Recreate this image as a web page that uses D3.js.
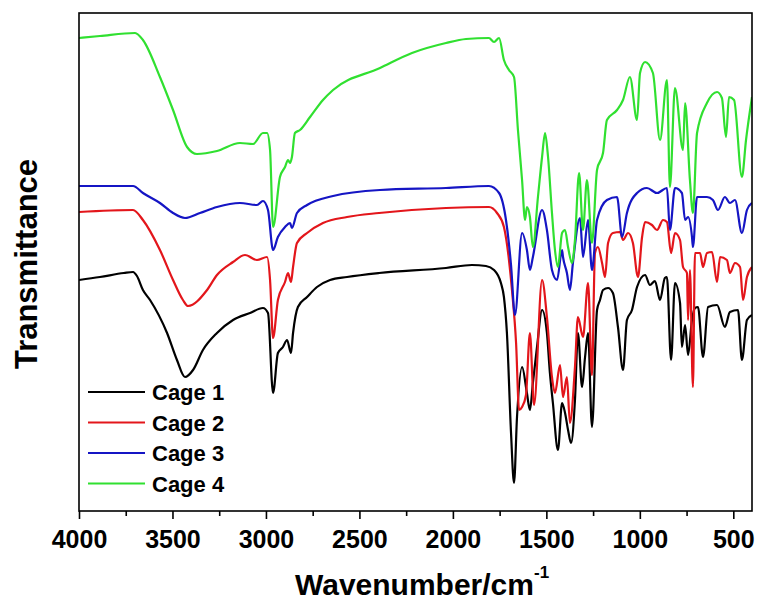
<!DOCTYPE html>
<html><head><meta charset="utf-8">
<script src="https://cdn.jsdelivr.net/npm/d3@7"></script>
<style>
body{margin:0;background:#fff}
svg{display:block}
text{font-family:"Liberation Sans",Arial,sans-serif;font-weight:bold;fill:#000}
</style>
</head><body>
<svg id="chart" width="759" height="601"></svg>
<script>
// ---- data ----
const seriesNames = ["Cage 1", "Cage 2", "Cage 3", "Cage 4"];
const seriesColors = ["#000000", "#e3161b", "#1515c4", "#30e030"];
const majorTicks = [4000, 3500, 3000, 2500, 2000, 1500, 1000, 500];
const minorTicks = [3750, 3250, 2750, 2250, 1750, 1250, 750];
const xLabel = "Wavenumber/cm";
const xLabelSup = "-1";
const yLabel = "Transmittance";

// [wavenumber, transmittance (a.u.)]
const cage1 = [[4000,46.2],[3888,46.8],[3760,47.6],[3711,47.8],[3690,47.0],[3658,44.2],[3620,42.2],[3529,35.6],[3476,30.2],[3433,26.8],[3390,28.2],[3337,32.2],[3262,35.6],[3176,38.2],[3085,39.6],[3016,40.6],[2989,39.6],[2962,23.6],[2936,31.6],[2909,32.8],[2887,34.2],[2866,31.6],[2855,35.6],[2829,40.8],[2780,42.8],[2727,44.8],[2657,46.2],[2566,46.8],[2395,47.6],[2037,48.6],[1898,49.2],[1823,49.0],[1780,48.2],[1743,45.6],[1727,42.8],[1711,35.6],[1689,15.6],[1673,5.6],[1657,18.8],[1630,28.8],[1604,23.6],[1588,20.2],[1572,25.6],[1550,32.8],[1523,40.2],[1497,35.6],[1481,27.6],[1465,21.6],[1438,12.2],[1416,21.6],[1400,19.6],[1384,16.2],[1368,13.6],[1347,22.2],[1331,35.6],[1309,24.8],[1293,30.8],[1277,35.6],[1256,16.8],[1229,40.2],[1213,42.2],[1197,44.2],[1170,44.6],[1144,43.6],[1117,36.8],[1090,28.2],[1069,38.2],[1042,40.2],[1015,44.8],[972,47.2],[946,45.2],[919,46.0],[892,42.2],[866,46.6],[855,46.8],[833,30.2],[812,45.6],[785,41.6],[775,32.8],[758,37.2],[742,31.2],[721,38.2],[705,40.6],[689,40.8],[662,30.8],[635,40.8],[587,41.2],[545,36.8],[518,39.8],[475,40.2],[454,30.2],[427,38.2],[400,39.2]];

const cage2 = [[4000,59.8],[3711,60.2],[3658,58.2],[3567,52.2],[3497,46.2],[3444,42.2],[3417,41.0],[3315,44.2],[3262,47.2],[3176,49.8],[3112,51.2],[3048,50.2],[2994,50.8],[2978,46.2],[2962,34.6],[2936,42.2],[2898,45.8],[2882,47.6],[2866,45.8],[2855,48.8],[2834,53.6],[2780,55.6],[2695,57.6],[2566,58.8],[2395,59.6],[2037,60.6],[1807,60.8],[1764,59.6],[1727,56.8],[1700,50.2],[1684,44.2],[1662,33.6],[1646,20.2],[1630,20.8],[1609,23.2],[1588,35.6],[1566,21.2],[1523,46.2],[1497,38.8],[1470,26.8],[1454,23.6],[1427,29.2],[1411,22.8],[1390,26.8],[1374,17.6],[1347,28.8],[1331,38.8],[1304,34.8],[1277,45.6],[1256,27.2],[1240,51.6],[1224,52.8],[1202,49.6],[1186,46.8],[1170,53.6],[1144,55.6],[1106,55.8],[1090,54.2],[1063,55.6],[1037,53.6],[1010,46.8],[988,54.8],[972,57.8],[935,57.2],[908,56.2],[876,58.2],[855,57.8],[833,51.6],[812,55.6],[785,54.2],[769,48.8],[748,47.6],[742,38.2],[732,48.2],[716,24.8],[705,51.6],[678,51.6],[662,48.8],[641,51.6],[614,51.8],[587,45.8],[571,50.8],[534,50.2],[518,47.6],[491,49.6],[464,48.8],[448,42.2],[427,46.8],[400,48.8]];

const cage3 = [[4000,65.0],[3711,65.0],[3658,63.6],[3567,61.6],[3497,59.6],[3433,58.6],[3353,59.6],[3262,60.8],[3139,61.6],[3048,61.2],[3016,62.0],[2989,60.2],[2962,52.2],[2936,54.8],[2898,56.8],[2871,57.6],[2861,56.6],[2834,59.6],[2780,61.2],[2641,63.0],[2390,64.2],[2037,64.6],[1807,65.0],[1753,63.6],[1716,58.2],[1689,49.2],[1668,39.2],[1630,55.6],[1604,52.2],[1588,48.2],[1572,50.8],[1523,60.2],[1497,56.2],[1470,48.2],[1443,46.2],[1416,52.2],[1411,50.8],[1390,47.6],[1374,44.2],[1358,49.6],[1320,58.6],[1304,50.8],[1277,58.2],[1256,48.2],[1229,58.2],[1176,62.2],[1122,62.8],[1095,54.8],[1069,59.6],[1015,63.6],[962,64.6],[908,63.6],[855,64.6],[839,56.2],[812,64.6],[775,63.6],[758,58.2],[742,58.8],[721,54.8],[716,52.8],[694,62.8],[641,62.8],[609,62.2],[582,60.2],[545,62.8],[518,61.6],[491,62.2],[454,55.6],[427,60.2],[400,61.6]];

const cage4 = [[4000,94.6],[3888,95.0],[3700,95.6],[3658,94.2],[3567,86.8],[3497,80.2],[3422,72.8],[3369,71.4],[3262,72.0],[3139,73.6],[3069,73.4],[3016,75.6],[2994,75.6],[2978,72.2],[2962,56.8],[2925,66.8],[2898,68.8],[2882,70.2],[2871,69.6],[2861,70.8],[2845,75.6],[2818,76.2],[2764,78.8],[2695,82.2],[2641,84.2],[2390,88.6],[2219,91.6],[2037,93.6],[1930,94.4],[1807,94.6],[1780,93.8],[1753,94.6],[1727,90.2],[1700,88.2],[1673,86.8],[1652,76.2],[1630,66.2],[1614,58.2],[1604,60.8],[1588,58.8],[1572,52.8],[1545,62.8],[1523,70.8],[1507,75.6],[1491,70.8],[1470,59.6],[1454,52.2],[1438,48.8],[1416,55.6],[1400,56.2],[1384,52.8],[1363,49.6],[1347,54.2],[1325,67.6],[1304,56.2],[1283,66.2],[1256,53.6],[1229,68.2],[1197,71.6],[1176,78.2],[1122,80.2],[1090,82.2],[1053,86.8],[1015,78.2],[999,87.6],[972,89.8],[930,87.6],[892,74.2],[855,86.2],[839,64.8],[812,84.6],[769,72.2],[758,81.6],[732,66.2],[716,59.6],[694,75.6],[641,81.6],[587,83.8],[561,82.6],[539,74.8],[523,82.8],[496,82.2],[454,66.8],[432,74.2],[400,82.8]];

const allSeries = [cage1, cage2, cage3, cage4];

// ---- layout ----
const W = 759, H = 601;
const margin = {left: 79, top: 13, right: 7, bottom: 90};
const pw = W - margin.left - margin.right;
const ph = H - margin.top - margin.bottom;

const svg = d3.select("#chart");
const x = d3.scaleLinear().domain([4000, 400]).range([margin.left, margin.left + pw]);
const y = d3.scaleLinear().domain([0, 99.6]).range([margin.top + ph, margin.top]);

const line = d3.line().x(d => x(d[0])).y(d => y(d[1])).curve(d3.curveMonotoneX);

svg.append("clipPath").attr("id", "clip").append("rect")
  .attr("x", margin.left).attr("y", margin.top).attr("width", pw).attr("height", ph);

const g = svg.append("g").attr("clip-path", "url(#clip)");
allSeries.forEach((s, i) => {
  g.append("path").datum(s)
    .attr("fill", "none")
    .attr("stroke", seriesColors[i])
    .attr("stroke-width", 2.2)
    .attr("stroke-linejoin", "round")
    .attr("d", line);
});

// frame
svg.append("rect")
  .attr("x", margin.left).attr("y", margin.top).attr("width", pw).attr("height", ph)
  .attr("fill", "none").attr("stroke", "#000").attr("stroke-width", 1.6);

// x axis major
const xAxis = d3.axisBottom(x).tickValues(majorTicks).tickSize(8).tickPadding(11).tickFormat(d3.format("d"));
const ax = svg.append("g").attr("transform", `translate(0,${margin.top + ph})`).call(xAxis);
ax.select(".domain").remove();
ax.selectAll(".tick line").attr("stroke", "#000").attr("stroke-width", 1.6);
ax.selectAll(".tick text").style("font-size", "25px").style("font-family", "'Liberation Sans',Arial,sans-serif").style("font-weight", "bold").attr("fill", "#000");

// x axis minor
const xMinor = d3.axisBottom(x).tickValues(minorTicks).tickSize(5).tickFormat("");
const axm = svg.append("g").attr("transform", `translate(0,${margin.top + ph})`).call(xMinor);
axm.select(".domain").remove();
axm.selectAll(".tick line").attr("stroke", "#000").attr("stroke-width", 1.6);

// axis titles
const xt = svg.append("text").attr("x", 295).attr("y", 595).style("font-size", "30px");
xt.append("tspan").text(xLabel);
xt.append("tspan").text(xLabelSup).attr("dy", -17).style("font-size", "17px");

svg.append("text")
  .attr("transform", `translate(37,${margin.top + ph / 2 + 2}) rotate(-90)`)
  .attr("text-anchor", "middle")
  .style("font-size", "31px")
  .text(yLabel);

// legend
const lg = svg.append("g");
seriesNames.forEach((name, i) => {
  const ly = 392 + i * 30.5;
  lg.append("line").attr("x1", 88).attr("x2", 145).attr("y1", ly).attr("y2", ly)
    .attr("stroke", seriesColors[i]).attr("stroke-width", 2.2);
  lg.append("text").attr("x", 152).attr("y", ly + 8).style("font-size", "22px").text(name);
});
</script>
</body></html>
